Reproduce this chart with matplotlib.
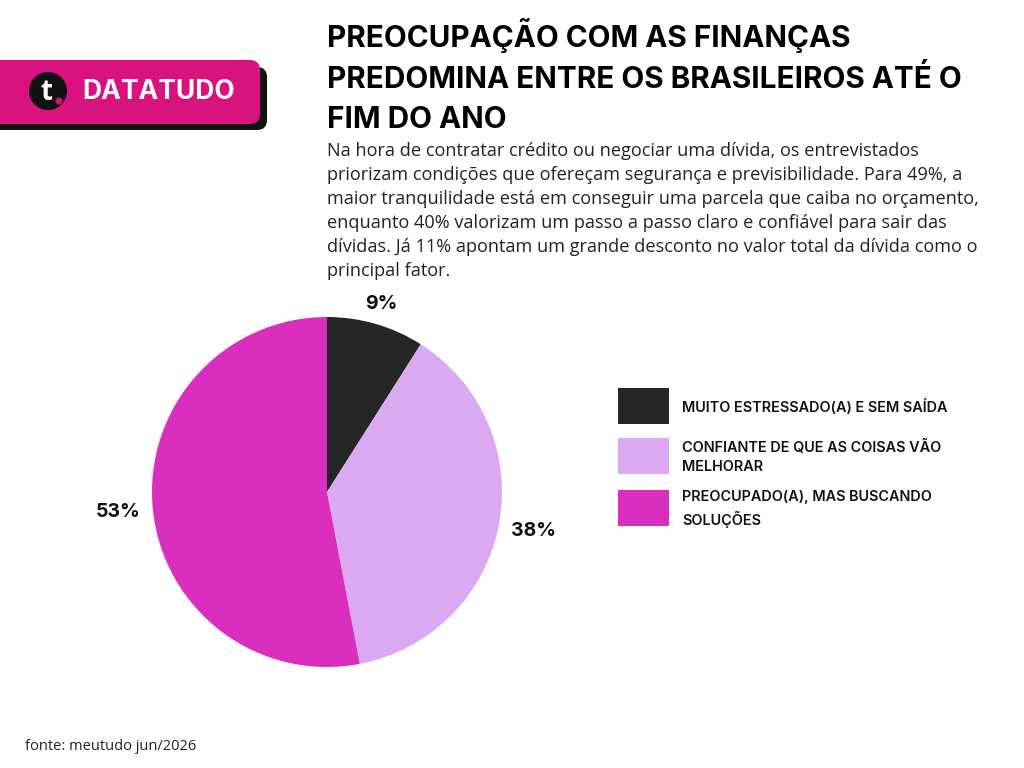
import matplotlib.pyplot as plt
from matplotlib.patches import FancyBboxPatch, Rectangle, Circle

categorias = ["MUITO ESTRESSADO(A) E SEM SAÍDA",
              "CONFIANTE DE QUE AS COISAS VÃO\nMELHORAR",
              "PREOCUPADO(A), MAS BUSCANDO\nSOLUÇÕES"]
valores = [9, 38, 53]
cores = ["#262626", "#DBA9F1", "#D92EBE"]

titulo = "PREOCUPAÇÃO COM AS FINANÇAS\nPREDOMINA ENTRE OS BRASILEIROS ATÉ O\nFIM DO ANO"
subtitulo = ("Na hora de contratar crédito ou negociar uma dívida, os entrevistados\n"
             "priorizam condições que ofereçam segurança e previsibilidade. Para 49%, a\n"
             "maior tranquilidade está em conseguir uma parcela que caiba no orçamento,\n"
             "enquanto 40% valorizam um passo a passo claro e confiável para sair das\n"
             "dívidas. Já 11% apontam um grande desconto no valor total da dívida como o\n"
             "principal fator.")
fonte = "fonte: meutudo jun/2026"

W, H = 1024, 768
fig = plt.figure(figsize=(W / 100, H / 100), dpi=100)
fig.patch.set_facecolor("white")


def fx(x):
    return x / W


def fy(y):
    return 1 - y / H


# logo
logo = fig.add_axes([0, 0, 1, 1])
logo.set_xlim(0, W)
logo.set_ylim(H, 0)
logo.axis("off")
logo.add_patch(FancyBboxPatch((-20, 67), 287, 63, boxstyle="round,pad=0,rounding_size=10",
                              fc="#111111", ec="none"))
logo.add_patch(FancyBboxPatch((-20, 60), 280, 64, boxstyle="round,pad=0,rounding_size=10",
                              fc="#D8137F", ec="none"))
logo.add_patch(Circle((48, 91), 19, fc="#111111", ec="none"))
logo.text(46, 92, "t", color="white", fontsize=20, fontweight="bold",
          family="Open Sans", ha="center", va="center")
logo.add_patch(Circle((59, 101), 3.5, fc="#D8137F", ec="none"))
logo.text(82, 92, "DATATUDO", color="white", fontsize=19, fontweight="bold",
          family="Inter", ha="left", va="center")

# textos
fig.text(fx(327), fy(18), titulo, fontsize=21.4, fontweight="bold", family="Inter",
         color="black", va="top", ha="left", linespacing=1.53)
fig.text(fx(327), fy(142), subtitulo, fontsize=13.1, family="Open Sans",
         color="#222222", va="top", ha="left", linespacing=1.43)
fig.text(fx(25), fy(746), fonte, fontsize=10.5, family="Open Sans",
         color="#222222", va="center", ha="left")

# pizza
cx, cy, r = 327, 492, 175
ax = fig.add_axes([fx(cx - r), fy(cy + r), 2 * r / W, 2 * r / H])
wedges, _, pcts = ax.pie(valores, colors=cores, startangle=90, counterclock=False,
                         autopct=lambda p: f"{round(p)}%", pctdistance=1.2,
                         textprops=dict(fontsize=14, fontweight="bold",
                                        family="Inter", color="#111111"))
px, py = pcts[0].get_position()
pcts[0].set_position((px * 0.93, py * 0.93))
ax.set_xlim(-1, 1)
ax.set_ylim(-1, 1)
ax.set_aspect("auto")

# legenda
leg = fig.add_axes([0, 0, 1, 1], zorder=-1)
leg.set_xlim(0, W)
leg.set_ylim(H, 0)
leg.axis("off")
topos = [388, 438, 490]
for cat, cor, t in zip(categorias, cores, topos):
    leg.add_patch(Rectangle((618, t), 51, 36, fc=cor, ec="none"))
    leg.text(682, t + 19, cat, fontsize=10.4, fontweight="semibold", family="Inter",
             color="#111111", va="center", ha="left", linespacing=1.5)

fig.savefig("out.png", dpi=100)
